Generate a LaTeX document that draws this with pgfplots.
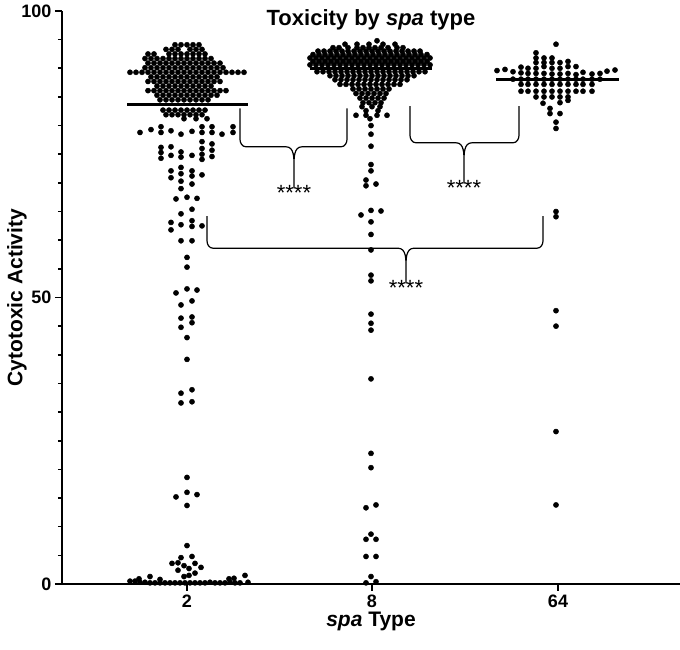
\documentclass[border=0pt]{standalone}
\usepackage{fontspec}
\setmainfont{Liberation Sans}
\usepackage{pgfplots}
\pgfplotsset{compat=1.18}
\begin{document}
\begin{tikzpicture}
\useasboundingbox (-62pt,-66pt) rectangle (618pt,584pt);
\begin{axis}[
    at={(0,0)}, anchor=south west,
    width=618pt, height=573pt, scale only axis,
    xmin=62, xmax=680, ymin=0, ymax=100,
    clip=false,
    axis lines=left,
    axis line style={-, line width=1.8pt},
    xtick={187,372,558}, xticklabels={2,8,64},
    ytick={0,50,100}, minor ytick={5,10,...,95},
    tick align=outside,
    major tick length=7pt, minor tick length=4pt,
    tick style={line width=1.6pt, black},
    /pgf/number format/assume math mode=true,
    tick label style={font=\bfseries\fontsize{18}{18}\selectfont},
    title={Toxicity by \textit{spa} type},
    title style={at={(0.5,1)}, anchor=north, yshift=-1pt, font=\bfseries\fontsize{22}{22}\selectfont},
    xlabel={\textit{spa} Type},
    ylabel={Cytotoxic Activity},
    label style={font=\bfseries\fontsize{21}{21}\selectfont},
    ylabel style={at={(axis description cs:-0.073,0.5)}, anchor=center},
    xlabel style={yshift=2pt},
]
% spa type 2
\addplot[only marks, mark=*, mark size=2.6pt, black] coordinates {
(175,94.1)(181,94.1)(187,94.1)(193,94.1)(199,94.1)
(166,93.3)(172,93.3)(178,93.3)(190,93.3)(196,93.3)(202,93.3)
(148,92.5)(154,92.5)(169,92.5)(175,92.5)(181,92.5)(187,92.5)(193,92.5)(199,92.5)(205,92.5)
(145,91.7)(151,91.7)(157,91.7)(163,91.7)(169,91.7)(175,91.7)(181,91.7)(187,91.7)(193,91.7)(199,91.7)(205,91.7)(211,91.7)
(148,90.9)(154,90.9)(160,90.9)(166,90.9)(172,90.9)(178,90.9)(184,90.9)(190,90.9)(196,90.9)(202,90.9)(208,90.9)(214,90.9)(220,90.9)
(145,90.1)(151,90.1)(157,90.1)(163,90.1)(169,90.1)(175,90.1)(181,90.1)(187,90.1)(193,90.1)(199,90.1)(205,90.1)(211,90.1)(217,90.1)(223,90.1)
(130,89.3)(136,89.3)(142,89.3)(148,89.3)(154,89.3)(160,89.3)(166,89.3)(172,89.3)(178,89.3)(184,89.3)(190,89.3)(196,89.3)(202,89.3)(208,89.3)(214,89.3)(220,89.3)(226,89.3)(232,89.3)(238,89.3)(244,89.3)
(151,88.5)(157,88.5)(163,88.5)(169,88.5)(175,88.5)(181,88.5)(187,88.5)(193,88.5)(199,88.5)(205,88.5)(211,88.5)(217,88.5)
(148,87.7)(154,87.7)(160,87.7)(166,87.7)(172,87.7)(178,87.7)(184,87.7)(190,87.7)(196,87.7)(202,87.7)(208,87.7)(214,87.7)(220,87.7)
(157,86.9)(163,86.9)(169,86.9)(175,86.9)(181,86.9)(187,86.9)(193,86.9)(199,86.9)(205,86.9)(211,86.9)
(148,86.1)(154,86.1)(160,86.1)(166,86.1)(172,86.1)(178,86.1)(184,86.1)(190,86.1)(196,86.1)(202,86.1)(208,86.1)(214,86.1)(220,86.1)(226,86.1)
(157,85.3)(163,85.3)(169,85.3)(175,85.3)(181,85.3)(187,85.3)(193,85.3)(199,85.3)(205,85.3)(211,85.3)(217,85.3)
(160,84.5)(166,84.5)(172,84.5)(178,84.5)(184,84.5)(190,84.5)(196,84.5)(202,84.5)(208,84.5)
(163,82.7)(169,82.7)(175,82.7)(181,82.7)(187,82.7)(193,82.7)(199,82.7)(205,82.7)
(166,81.9)(172,81.9)(178,81.9)(184,81.9)(190,81.9)(196,81.9)(202,81.9)
(184,81.2)(196,81.2)(207,81.2)
(161,79.8)(202,79.8)(212,79.8)(233,79.8)(151,79.3)(171,79.1)(192,79.0)
(140,78.8)(161,78.8)(202,78.8)(212,78.8)(233,78.8)(181,78.5)(222,78.5)
(161,76.2)(161,75.3)(161,74.3)(171,76.3)(171,74.8)(181,75.4)(181,74.5)(192,74.8)
(202,77.2)(202,76.0)(202,75.0)(202,74.1)(212,76.8)(212,75.7)(212,74.6)
(171,72.1)(171,70.9)(181,72.7)(181,71.6)(181,70.3)(181,69.0)(192,72.1)(192,71.2)(192,69.8)(202,71.4)
(176,67.2)(187,67.5)(197,67.3)(181,64.6)(192,65.4)(171,63.1)(171,61.8)(181,62.7)(192,63.4)(192,62.4)(202,62.5)
(181,59.9)(192,59.9)(187,57.0)(187,55.3)
(176,50.8)(187,51.5)(197,51.3)(181,48.7)(192,49.4)(181,46.4)(192,46.6)(181,44.8)(192,45.6)(187,43.0)(187,39.2)
(181,33.3)(192,33.9)(181,31.6)(192,31.8)(187,18.6)(187,16.0)(176,15.2)(197,15.6)(187,13.7)(187,6.7)(181,4.6)(192,4.8)
(172,3.6)(178,3.7)(184,3.2)(189,2.7)(195,3.6)(201,2.9)(178,2.4)(195,1.9)(189,1.5)(184,1.3)
(130,0.5)(135,0.5)(140,0.3)(145,0.3)(150,0.2)(155,0.2)(160,0.2)(165,0.2)(170,0.2)(175,0.2)(180,0.2)(185,0.2)
(190,0.2)(195,0.2)(200,0.2)(205,0.2)(210,0.3)(215,0.2)(220,0.2)(225,0.2)(230,0.3)(235,0.2)(240,0.2)(248,0.3)
(150,1.3)(139,0.9)(160,0.8)(229,0.9)(234,1.0)(245,1.5)
};
% spa type 8
\addplot[only marks, mark=*, mark size=2.6pt, black] coordinates {
(377,94.8)
(345,94.2)(357,94.2)(369,94.2)(383,94.2)(395,94.2)
(333,93.6)(339,93.6)(348,93.6)(357,93.6)(363,93.6)(369,93.6)(375,93.6)(381,93.6)(388,93.6)(397,93.6)(403,93.6)
(318,93.0)(324,93.0)(330,93.0)(336,93.0)(342,93.0)(348,93.0)(354,93.0)(360,93.0)(366,93.0)(372,93.0)(378,93.0)(384,93.0)(390,93.0)(396,93.0)(402,93.0)(408,93.0)(414,93.0)(420,93.0)
(313,92.4)(319,92.4)(325,92.4)(331,92.4)(337,92.4)(343,92.4)(349,92.4)(355,92.4)(361,92.4)(367,92.4)(373,92.4)(379,92.4)(385,92.4)(391,92.4)(397,92.4)(403,92.4)(409,92.4)(415,92.4)(421,92.4)(427,92.4)
(310,91.8)(316,91.8)(322,91.8)(328,91.8)(334,91.8)(340,91.8)(346,91.8)(352,91.8)(358,91.8)(364,91.8)(370,91.8)(376,91.8)(382,91.8)(388,91.8)(394,91.8)(400,91.8)(406,91.8)(412,91.8)(418,91.8)(424,91.8)(430,91.8)
(313,91.2)(319,91.2)(325,91.2)(331,91.2)(337,91.2)(343,91.2)(349,91.2)(355,91.2)(361,91.2)(367,91.2)(373,91.2)(379,91.2)(385,91.2)(391,91.2)(397,91.2)(403,91.2)(409,91.2)(415,91.2)(421,91.2)(427,91.2)
(310,90.6)(316,90.6)(322,90.6)(328,90.6)(334,90.6)(340,90.6)(346,90.6)(352,90.6)(358,90.6)(364,90.6)(370,90.6)(376,90.6)(382,90.6)(388,90.6)(394,90.6)(400,90.6)(406,90.6)(412,90.6)(418,90.6)(424,90.6)(430,90.6)
(317,89.4)(323,89.4)(329,89.4)(335,89.4)(341,89.4)(347,89.4)(353,89.4)(359,89.4)(365,89.4)(371,89.4)(377,89.4)(383,89.4)(389,89.4)(395,89.4)(401,89.4)(407,89.4)(413,89.4)(419,89.4)(425,89.4)
(330,88.7)(336,88.7)(342,88.7)(348,88.7)(354,88.7)(360,88.7)(366,88.7)(372,88.7)(378,88.7)(384,88.7)(390,88.7)(396,88.7)(402,88.7)(408,88.7)(414,88.7)
(335,88.0)(341,88.0)(347,88.0)(353,88.0)(359,88.0)(365,88.0)(371,88.0)(377,88.0)(383,88.0)(389,88.0)(395,88.0)(401,88.0)(407,88.0)
(340,87.2)(346,87.2)(352,87.2)(358,87.2)(364,87.2)(370,87.2)(376,87.2)(382,87.2)(388,87.2)(394,87.2)(400,87.2)
(353,86.4)(359,86.4)(365,86.4)(371,86.4)(377,86.4)(383,86.4)(389,86.4)
(356,85.6)(362,85.6)(368,85.6)(374,85.6)(380,85.6)(386,85.6)
(360,84.8)(366,84.8)(372,84.8)(378,84.8)(384,84.8)
(363,84.0)(369,84.0)(375,84.0)(381,84.0)
(362,83.3)(372,83.3)(380,83.3)(366,82.6)(378,82.6)
(356,81.8)(366,81.8)(377,81.8)(387,81.8)(370,81.2)(371,80.0)(371,78.5)(371,76.4)(371,73.2)(371,72.1)
(366,70.5)(366,69.5)(376,69.8)(361,64.4)(371,65.2)(381,65.1)(371,63.2)(371,61.0)(371,58.3)(371,53.9)(371,52.9)
(371,47.1)(371,45.5)(371,44.3)(371,35.8)(371,22.8)(371,20.3)(366,13.3)(376,13.8)(371,8.7)(366,7.8)(376,7.8)
(366,4.8)(376,4.8)(371,1.3)(366,0.2)(376,0.4)
};
% spa type 64
\addplot[only marks, mark=*, mark size=2.6pt, black] coordinates {
(556,94.2)(536,92.7)(536,91.8)(544,91.8)(552,91.8)
(536,91.0)(544,91.0)(552,91.0)(560,91.0)(568,91.2)
(521,90.2)(528,90.0)(536,90.0)(544,90.3)(552,90.0)(560,90.0)(568,90.3)(576,90.3)
(497,89.6)(505,89.8)(513,89.4)(521,89.2)(528,89.1)(536,89.1)(544,89.1)(552,89.0)(560,89.0)(568,89.1)(576,88.9)(583,89.3)(592,89.0)(600,89.1)(607,89.5)(615,89.7)
(513,88.1)(521,88.1)(528,88.1)(536,88.1)(544,88.1)(552,88.1)(560,88.1)(568,88.1)(576,88.1)(583,88.1)(592,88.1)(600,88.1)
(521,87.2)(528,87.2)(536,87.2)(544,87.2)(552,87.2)(560,87.2)(568,87.2)(576,87.2)(583,87.2)(592,87.2)
(521,86.0)(528,86.0)(536,86.0)(544,86.0)(552,86.0)(560,86.0)(568,86.0)(576,86.0)(583,86.0)(592,86.0)
(536,85.0)(544,85.0)(552,85.0)(560,85.0)(568,85.0)
(543,83.9)(560,84.0)(568,84.4)(550,83.0)(550,82.1)(560,82.1)(556,80.6)(556,79.5)
(556,65.0)(556,64.1)(556,47.7)(556,45.0)(556,26.6)(556,13.8)
};
% medians
\addplot[black, line width=3pt] coordinates {(127,83.6) (248,83.6)};
\addplot[black, line width=3pt] coordinates {(310,90.0) (432,90.0)};
\addplot[black, line width=3pt] coordinates {(496,88.0) (619,88.0)};
% significance brackets
\draw[line width=1.2pt] (axis cs:240,83.0) -- (axis cs:240,77.6) to[out=-90,in=180] (axis cs:246,76.3)
  -- (axis cs:286,76.3) to[out=0,in=90] (axis cs:294,72.8) -- (axis cs:294,69.1)
  -- (axis cs:294,72.8) to[out=90,in=180] (axis cs:302,76.3)
  -- (axis cs:341,76.3) to[out=0,in=-90] (axis cs:347,77.6) -- (axis cs:347,83.0);
\draw[line width=1.2pt] (axis cs:410,83.4) -- (axis cs:410,78.3) to[out=-90,in=180] (axis cs:416,77.0)
  -- (axis cs:456,77.0) to[out=0,in=90] (axis cs:464,73.5) -- (axis cs:464,69.9)
  -- (axis cs:464,73.5) to[out=90,in=180] (axis cs:472,77.0)
  -- (axis cs:513,77.0) to[out=0,in=-90] (axis cs:519,78.3) -- (axis cs:519,83.4);
\draw[line width=1.2pt] (axis cs:207,64.2) -- (axis cs:207,59.9) to[out=-90,in=180] (axis cs:213,58.6)
  -- (axis cs:398,58.6) to[out=0,in=90] (axis cs:406,55.1) -- (axis cs:406,52.5)
  -- (axis cs:406,55.1) to[out=90,in=180] (axis cs:414,58.6)
  -- (axis cs:537,58.6) to[out=0,in=-90] (axis cs:543,59.9) -- (axis cs:543,64.2);
\node[anchor=north, inner sep=0pt, font=\fontsize{22}{22}\selectfont] at (axis cs:294,69.6) {****};
\node[anchor=north, inner sep=0pt, font=\fontsize{22}{22}\selectfont] at (axis cs:464,70.4) {****};
\node[anchor=north, inner sep=0pt, font=\fontsize{22}{22}\selectfont] at (axis cs:406,53.0) {****};
\end{axis}
\end{tikzpicture}
\end{document}
